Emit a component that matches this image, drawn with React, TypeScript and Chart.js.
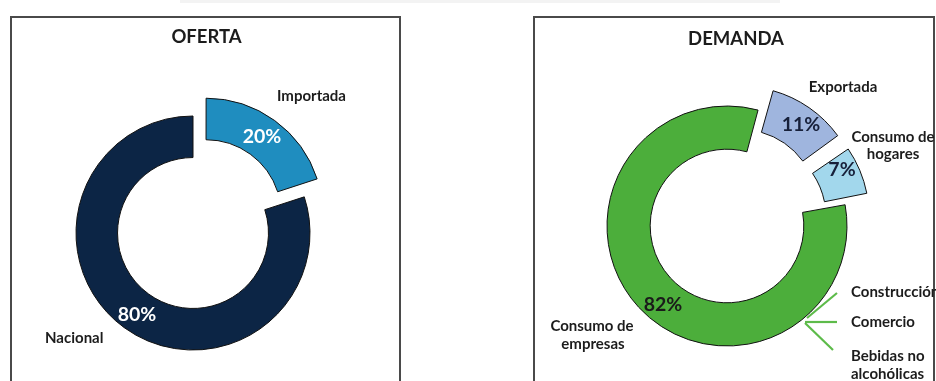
import React, { useEffect, useRef } from 'react';
import { Chart, registerables, ArcElement } from 'chart.js';

Chart.register(...registerables);

// Remove Chart.js radial growth on offset arcs so exploded slices keep the ring size
const origArcDraw = (ArcElement.prototype as any).draw;
(ArcElement.prototype as any).draw = function (ctx: CanvasRenderingContext2D) {
  const off = ((this.options && this.options.offset) || 0) / 4;
  const fix = 1 - Math.sin(Math.min(Math.PI, this.circumference || 0));
  const ro = off * fix;
  this.outerRadius -= ro;
  this.innerRadius -= ro;
  origArcDraw.call(this, ctx);
  this.outerRadius += ro;
  this.innerRadius += ro;
};

// ---------- DATA ----------
const ofertaTitle = 'OFERTA';
const ofertaLabels = ['Importada', 'Nacional'];
const ofertaValues = [20, 80];

const demandaTitle = 'DEMANDA';
const demandaLabels = ['Exportada', 'Consumo de hogares', 'Consumo de empresas'];
const demandaValues = [11, 7, 82];
const empresasSectors = ['Construcción', 'Comercio', 'Bebidas no alcohólicas'];

// ---------- STYLE ----------
const FONT = 'Lato, "Open Sans", sans-serif';
const DARK = '#1c1c1c';
const ofertaColors = ['#1f8dbf', '#0c2545'];
const demandaColors = ['#9fb5de', '#a2d7ec', '#4cae3b'];
const leaderColor = '#5dbb4a';

type Txt = { t: string; dx: number; dy: number; size: number; color: string; align: CanvasTextAlign };
type Seg = { x1: number; y1: number; x2: number; y2: number };

function makeTextPlugin(id: string, items: Txt[], segs: Seg[] = []) {
  return {
    id,
    afterDraw(chart: any) {
      const arc = chart.getDatasetMeta(0).data[0];
      const cx = arc.x;
      const cy = arc.y;
      const ctx = chart.ctx as CanvasRenderingContext2D;
      ctx.save();
      ctx.strokeStyle = leaderColor;
      ctx.lineWidth = 2.2;
      ctx.lineCap = 'butt';
      segs.forEach((s) => {
        ctx.beginPath();
        ctx.moveTo(cx + s.x1, cy + s.y1);
        ctx.lineTo(cx + s.x2, cy + s.y2);
        ctx.stroke();
      });
      ctx.textBaseline = 'middle';
      items.forEach((it) => {
        ctx.font = `bold ${it.size}px ${FONT}`;
        ctx.fillStyle = it.color;
        ctx.textAlign = it.align;
        ctx.fillText(it.t, cx + it.dx, cy + it.dy);
      });
      ctx.restore();
    },
  };
}

const pct = (v: number) => `${v}%`;

export default function App() {
  const leftRef = useRef<HTMLCanvasElement>(null);
  const rightRef = useRef<HTMLCanvasElement>(null);

  useEffect(() => {
    const L = 15;
    const P = 19.5;
    const leftItems: Txt[] = [
      { t: ofertaTitle, dx: 13.5, dy: -195.5, size: 18.5, color: DARK, align: 'center' },
      { t: ofertaLabels[0], dx: 84, dy: -137, size: L, color: DARK, align: 'left' },
      { t: pct(ofertaValues[0]), dx: 69, dy: -96, size: P, color: '#ffffff', align: 'center' },
      { t: pct(ofertaValues[1]), dx: -56, dy: 82, size: P, color: '#ffffff', align: 'center' },
      { t: ofertaLabels[1], dx: -148, dy: 105, size: L, color: DARK, align: 'left' },
    ];
    const left = new Chart(leftRef.current!, {
      type: 'doughnut',
      data: {
        labels: ofertaLabels,
        datasets: [
          {
            data: ofertaValues,
            backgroundColor: ofertaColors,
            borderColor: '#111111',
            borderWidth: 1,
            offset: [88, 0],
          } as any,
        ],
      },
      options: {
        responsive: false,
        animation: false,
        devicePixelRatio: 1,
        radius: 117,
        cutout: '64.5%',
        rotation: 0,
        layout: { padding: { left: 0, right: 936 - 2 * 193, top: 2 * 233 - 381, bottom: 0 } },
        plugins: { legend: { display: false }, tooltip: { enabled: false }, title: { display: false } },
        events: [],
      } as any,
      plugins: [makeTextPlugin('ofertaText', leftItems)],
    });

    const rightItems: Txt[] = [
      { t: demandaTitle, dx: 9, dy: -187, size: 18.5, color: DARK, align: 'center' },
      { t: demandaLabels[0], dx: 116, dy: -139, size: L, color: DARK, align: 'center' },
      { t: pct(demandaValues[0]), dx: 74, dy: -101.5, size: P, color: '#17203a', align: 'center' },
      { t: 'Consumo de', dx: 166, dy: -89, size: L, color: DARK, align: 'center' },
      { t: 'hogares', dx: 166, dy: -72, size: L, color: DARK, align: 'center' },
      { t: pct(demandaValues[1]), dx: 115, dy: -56, size: P, color: '#17203a', align: 'center' },
      { t: pct(demandaValues[2]), dx: -64, dy: 79, size: P, color: '#1a1a1a', align: 'center' },
      { t: 'Consumo de', dx: -135, dy: 100, size: L, color: DARK, align: 'center' },
      { t: 'empresas', dx: -134, dy: 118, size: L, color: DARK, align: 'center' },
      { t: empresasSectors[0], dx: 124, dy: 66, size: L, color: DARK, align: 'left' },
      { t: empresasSectors[1], dx: 124, dy: 96, size: L, color: DARK, align: 'left' },
      { t: 'Bebidas no', dx: 124, dy: 130, size: L, color: DARK, align: 'left' },
      { t: 'alcohólicas', dx: 124, dy: 148, size: L, color: DARK, align: 'left' },
    ];
    const rightSegs: Seg[] = [
      { x1: 80, y1: 92, x2: 110, y2: 67 },
      { x1: 78, y1: 96, x2: 110, y2: 96 },
      { x1: 78, y1: 97, x2: 106, y2: 124 },
    ];
    const right = new Chart(rightRef.current!, {
      type: 'doughnut',
      data: {
        labels: demandaLabels,
        datasets: [
          {
            data: demandaValues,
            backgroundColor: demandaColors,
            borderColor: '#111111',
            borderWidth: 1,
            offset: [96, 96, 0],
          } as any,
        ],
      },
      options: {
        responsive: false,
        animation: false,
        devicePixelRatio: 1,
        radius: 120,
        cutout: '64%',
        rotation: 15,
        layout: { padding: { left: 2 * 727 - 936, right: 0, top: 2 * 226 - 381, bottom: 0 } },
        plugins: { legend: { display: false }, tooltip: { enabled: false }, title: { display: false } },
        events: [],
      } as any,
      plugins: [makeTextPlugin('demandaText', rightItems, rightSegs)],
    });

    return () => {
      left.destroy();
      right.destroy();
    };
  }, []);

  const panelBorder = '2px solid #4a4a4a';
  return (
    <div
      style={{
        position: 'fixed',
        left: 0,
        top: 0,
        width: 936,
        height: 381,
        overflow: 'hidden',
        background: '#ffffff',
      }}
    >
      <div style={{ position: 'absolute', left: 180, top: 0, width: 600, height: 3, background: '#f3f3f3' }} />
      <div
        style={{
          position: 'absolute',
          left: 10,
          top: 16,
          width: 391,
          height: 400,
          borderLeft: panelBorder,
          borderTop: panelBorder,
          borderRight: panelBorder,
          boxSizing: 'border-box',
        }}
      />
      <div
        style={{
          position: 'absolute',
          left: 533,
          top: 16,
          width: 402,
          height: 400,
          borderLeft: panelBorder,
          borderTop: panelBorder,
          borderRight: panelBorder,
          boxSizing: 'border-box',
        }}
      />
      <canvas ref={leftRef} width={936} height={381} style={{ position: 'absolute', left: 0, top: 0 }} />
      <canvas ref={rightRef} width={936} height={381} style={{ position: 'absolute', left: 0, top: 0 }} />
    </div>
  );
}
